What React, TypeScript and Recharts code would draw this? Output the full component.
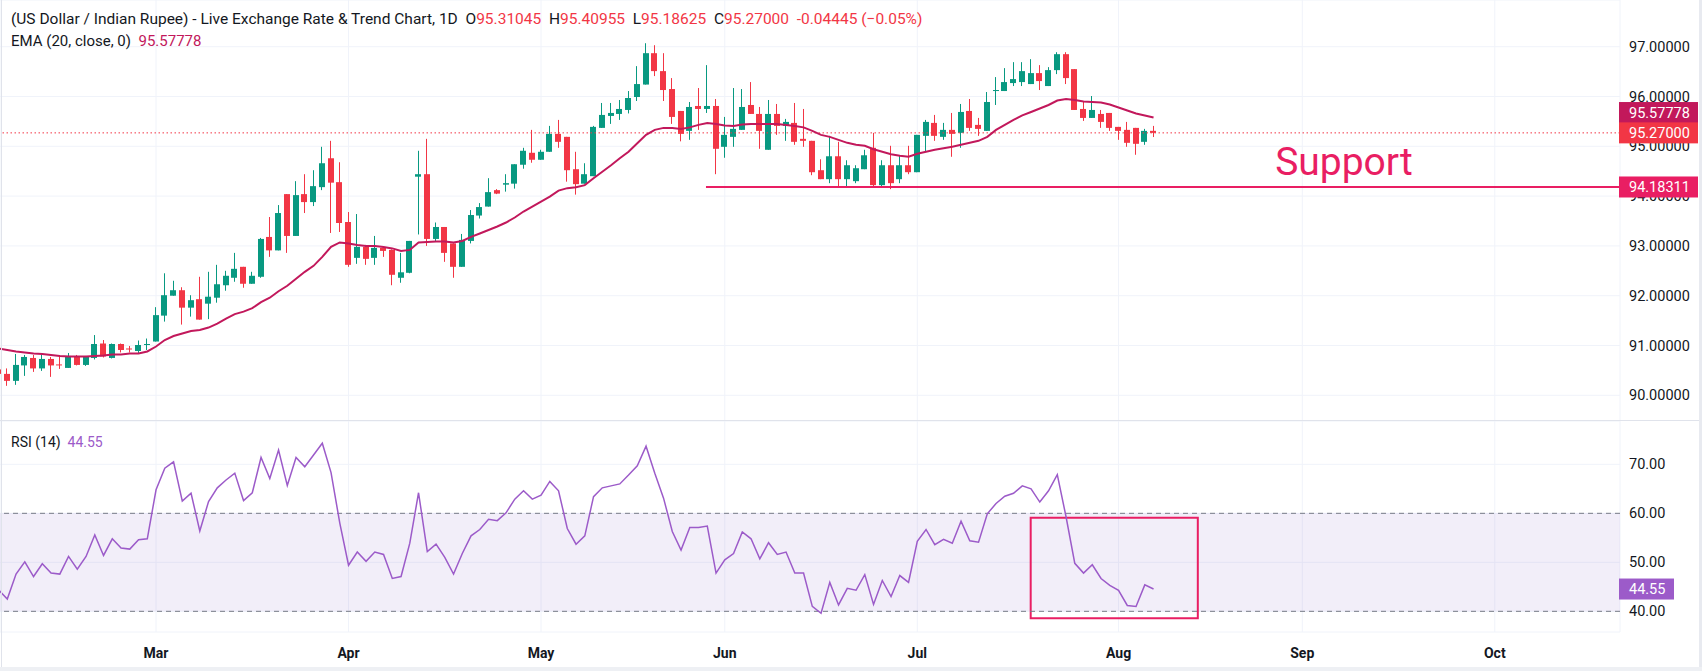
import React from "react";
import {
  ComposedChart,
  Bar,
  Line,
  XAxis,
  YAxis,
  CartesianGrid,
  ReferenceLine,
  ReferenceArea,
  ReferenceDot,
} from "recharts";

// USD/INR daily candles, 4 Feb - 7 Aug (first bar sits just off the left edge).
const open = [
  90.52, 90.43, 90.29, 90.6, 90.75, 90.54, 90.73, 90.62, 90.55, 90.77, 90.61, 90.75, 91.04, 90.75, 91.03, 90.94, 90.89,
  91.02, 91.08, 91.6, 92.0, 92.11, 91.76, 91.93, 91.84, 91.96, 92.21, 92.36, 92.58, 92.24, 92.38, 93.18, 92.91, 94.04,
  93.2, 94.04, 93.88, 94.18, 94.76, 94.28, 93.48, 92.76, 92.98, 92.76, 92.96, 92.92, 92.36, 92.46, 94.39, 94.44, 93.14,
  93.38, 93.05, 92.58, 93.1, 93.61, 93.79, 94.12, 94.23, 94.25, 94.63, 94.87, 94.73, 94.89, 95.25, 95.19, 94.54, 94.25,
  94.4, 95.37, 95.61, 95.65, 95.73, 95.99, 96.24, 96.87, 96.51, 96.15, 95.71, 95.31, 95.81, 95.75, 95.81, 94.99, 95.19,
  95.33, 95.83, 95.65, 94.93, 95.65, 95.41, 95.47, 95.15, 95.11, 94.52, 94.34, 94.8, 94.34, 94.3, 94.54, 94.97, 94.22,
  94.62, 94.34, 94.62, 94.48, 95.21, 95.47, 95.19, 95.33, 95.27, 95.71, 95.43, 95.31, 96.11, 96.11, 96.27, 96.29, 96.25,
  96.47, 96.21, 96.53, 96.85, 96.55, 95.75, 95.57, 95.65, 95.67, 95.39, 95.33, 95.37, 95.09, 95.31045,
];
const high = [
  90.58, 90.54, 90.83, 90.81, 90.81, 90.84, 90.77, 90.77, 90.85, 90.81, 90.79, 91.21, 91.11, 91.04, 91.04, 90.99, 91.1,
  91.14, 91.77, 92.45, 92.3, 92.17, 92.01, 92.38, 92.48, 92.62, 92.5, 92.86, 92.58, 92.48, 93.16, 93.58, 93.82, 94.04,
  94.3, 94.44, 94.52, 94.99, 95.11, 94.68, 93.68, 93.64, 93.02, 93.2, 92.97, 92.93, 92.86, 93.1, 94.91, 95.15, 93.47,
  93.38, 93.05, 93.24, 93.72, 93.86, 94.36, 94.14, 94.44, 94.64, 94.97, 95.33, 94.93, 95.41, 95.53, 95.19, 94.89, 94.66,
  95.41, 95.87, 95.87, 95.93, 96.11, 96.61, 97.07, 97.03, 96.87, 96.37, 95.71, 95.89, 96.17, 96.63, 95.95, 95.59, 96.17,
  96.15, 96.29, 95.79, 95.93, 95.85, 95.55, 95.87, 95.75, 95.11, 94.74, 95.21, 95.09, 94.72, 94.62, 94.93, 95.27, 94.72,
  95.01, 94.82, 95.01, 95.23, 95.53, 95.63, 95.47, 95.67, 95.85, 95.95, 95.57, 96.09, 96.39, 96.57, 96.69, 96.69, 96.75,
  96.63, 96.59, 96.89, 96.89, 96.55, 95.91, 96.01, 95.73, 95.67, 95.39, 95.49, 95.37, 95.35, 95.40955,
];
const low = [
  90.38, 90.19, 90.21, 90.39, 90.47, 90.49, 90.37, 90.53, 90.55, 90.6, 90.59, 90.72, 90.76, 90.74, 90.86, 90.86, 90.84,
  90.91, 91.08, 91.48, 92.0, 91.42, 91.58, 91.52, 91.53, 91.86, 92.1, 92.28, 92.16, 92.24, 92.36, 92.78, 92.91, 92.86,
  93.2, 93.66, 93.8, 94.12, 93.26, 93.28, 92.58, 92.64, 92.62, 92.62, 92.78, 92.21, 92.26, 92.45, 93.23, 93.0, 93.09,
  92.68, 92.36, 92.58, 93.05, 93.55, 93.79, 94.04, 94.09, 94.15, 94.55, 94.67, 94.73, 94.89, 94.97, 94.29, 94.03, 94.25,
  94.4, 95.37, 95.45, 95.53, 95.66, 95.91, 96.24, 96.41, 95.91, 95.45, 95.1, 95.13, 95.33, 95.67, 94.44, 94.77, 94.99,
  95.33, 95.65, 94.95, 94.93, 95.23, 95.11, 95.03, 94.99, 94.42, 94.34, 94.26, 94.2, 94.2, 94.26, 94.54, 94.2, 94.2,
  94.14, 94.26, 94.44, 94.48, 94.89, 95.11, 95.13, 94.79, 94.97, 95.31, 95.21, 95.31, 95.83, 96.11, 96.21, 96.21, 96.25,
  96.13, 96.21, 96.45, 96.25, 95.73, 95.51, 95.57, 95.37, 95.31, 95.13, 94.99, 94.83, 95.03, 95.18625,
];
const close = [
  90.43, 90.29, 90.61, 90.77, 90.54, 90.73, 90.6, 90.6, 90.79, 90.61, 90.77, 91.03, 90.78, 91.03, 90.91, 90.92, 91.01,
  91.03, 91.61, 92.01, 92.11, 91.76, 91.91, 91.52, 91.98, 92.23, 92.4, 92.54, 92.24, 92.4, 93.14, 92.91, 93.66, 93.2,
  94.02, 93.88, 94.2, 94.66, 94.27, 93.46, 92.62, 92.98, 92.74, 92.96, 92.9, 92.42, 92.47, 93.1, 94.44, 93.14, 93.38,
  92.86, 92.58, 93.12, 93.62, 93.78, 94.08, 94.05, 94.26, 94.64, 94.91, 94.73, 94.89, 95.25, 95.09, 94.52, 94.24, 94.44,
  95.39, 95.63, 95.67, 95.75, 95.97, 96.25, 96.87, 96.51, 96.13, 95.59, 95.25, 95.79, 95.75, 95.81, 94.95, 95.23, 95.35,
  95.79, 95.65, 95.31, 95.65, 95.41, 95.49, 95.09, 95.11, 94.48, 94.34, 94.8, 94.34, 94.62, 94.56, 94.82, 94.22, 94.62,
  94.26, 94.62, 94.48, 95.23, 95.49, 95.21, 95.33, 95.25, 95.69, 95.37, 95.35, 95.89, 96.13, 96.29, 96.35, 96.51, 96.47,
  96.31, 96.53, 96.85, 96.37, 95.73, 95.57, 95.73, 95.49, 95.37, 95.31, 95.07, 95.05, 95.31, 95.27,
];
// EMA(20, close) as drawn on the chart
const ema = [
  90.94, 90.91, 90.88, 90.86, 90.84, 90.83, 90.81, 90.79, 90.78, 90.78, 90.78, 90.79, 90.8, 90.82, 90.82, 90.84, 90.84,
  90.88, 90.98, 91.11, 91.19, 91.24, 91.29, 91.31, 91.36, 91.44, 91.54, 91.63, 91.68, 91.75, 91.87, 91.96, 92.09, 92.2,
  92.34, 92.48, 92.6, 92.78, 92.98, 93.07, 93.05, 93.02, 93.0, 93.0, 92.98, 92.95, 92.9, 92.92, 93.07, 93.08, 93.09,
  93.09, 93.07, 93.1, 93.18, 93.25, 93.32, 93.39, 93.47, 93.57, 93.69, 93.79, 93.89, 93.99, 94.11, 94.16, 94.18, 94.22,
  94.36, 94.49, 94.62, 94.76, 94.89, 95.06, 95.23, 95.33, 95.37, 95.37, 95.35, 95.38, 95.43, 95.47, 95.45, 95.42, 95.41,
  95.44, 95.45, 95.45, 95.45, 95.45, 95.43, 95.41, 95.38, 95.31, 95.23, 95.19, 95.13, 95.07, 95.03, 95.01, 94.94, 94.89,
  94.84, 94.81, 94.79, 94.85, 94.89, 94.93, 94.96, 94.99, 95.03, 95.07, 95.11, 95.19, 95.33, 95.43, 95.53, 95.62, 95.69,
  95.76, 95.83, 95.92, 95.95, 95.93, 95.9, 95.89, 95.88, 95.84, 95.78, 95.72, 95.66, 95.62, 95.57778,
];
// RSI(14)
const rsi = [
  44.4, 42.5, 47.6, 50.1, 47.1, 49.7, 47.8, 47.6, 51.2, 48.6, 51.2, 55.6, 51.4, 54.8, 52.9, 52.7, 54.6, 54.8, 64.8, 69.2,
  70.5, 62.5, 64.1, 56.4, 62.4, 65.2, 66.8, 68.2, 62.6, 64.2, 71.4, 67.1, 72.9, 65.7, 71.4, 69.5, 71.9, 74.3, 68.3, 58.0,
  49.4, 52.1, 50.2, 52.1, 51.6, 46.7, 47.1, 53.9, 64.2, 52.2, 53.7, 51.0, 47.6, 51.8, 55.4, 56.7, 58.8, 58.5, 60.1, 62.9,
  64.6, 62.9, 63.7, 66.5, 64.6, 56.9, 53.7, 55.4, 63.4, 65.2, 65.6, 66.0, 67.8, 69.7, 73.7, 68.2, 63.1, 56.3, 52.5, 57.1,
  57.1, 57.4, 47.8, 50.5, 51.8, 56.2, 54.8, 50.7, 54.0, 51.6, 52.1, 47.8, 47.8, 41.0, 39.6, 45.9, 41.3, 44.7, 44.3, 47.5,
  41.4, 46.3, 43.0, 47.3, 45.9, 54.3, 56.7, 53.6, 54.7, 53.9, 58.4, 54.4, 54.1, 59.9, 62.0, 63.5, 64.1, 65.6, 65.0, 62.3,
  64.6, 67.9, 59.3, 49.8, 47.8, 49.5, 46.7, 45.3, 44.3, 41.2, 41.0, 45.4, 44.55,
];

// bar slots that open each month (Feb 5 = slot 0)
const monthTicks = [17, 39, 61, 82, 104, 127, 148, 170];
const monthLabels = ["Mar", "Apr", "May", "Jun", "Jul", "Aug", "Sep", "Oct"];
const priceTicks = [90, 91, 92, 93, 94, 95, 96, 97];
const rsiTicks = [40, 50, 60, 70];

const lastClose = 95.27;
const lastEma = 95.57778;
const lastRsi = 44.55;
const supportLevel = 94.18311;
const supportFrom = 79.85;
const rsiBox = { x1: 116.96, x2: 136.06, y1: 38.6, y2: 59.1 };

const FONT = '"Trebuchet MS", Roboto, sans-serif';
const UP = "#089981";
const DOWN = "#F23645";
const EMA_COLOR = "#C2185B";
const PINK = "#E91E63";
const RSI_COLOR = "#9C5BC9";
const GRID = "#F0F3FA";
const X_DOMAIN: [number, number] = [-0.834, 184.31];
const PRICE_DOMAIN: [number, number] = [89.484, 97.938];

const rows = open.map((o, k) => ({
  i: k - 1,
  open: o,
  high: high[k],
  low: low[k],
  close: close[k],
  ema: ema[k],
  rsi: rsi[k],
}));

function Candle(props: any) {
  const { x, y, width, height, payload } = props;
  if (!payload || x == null || y == null) return null;
  const { open: o, close: c, high: h, low: l } = payload;
  const color = c >= o ? UP : DOWN;
  const hgt = Math.abs(height);
  const top = height < 0 ? y + height : y;
  const k = h === l ? 0 : hgt / (h - l);
  const yOf = (v: number) => top + (h - v) * k;
  const cx = x + width / 2;
  const wx = Math.round(cx - 0.5) + 0.5;
  const bTop = yOf(Math.max(o, c));
  const bBot = yOf(Math.min(o, c));
  return (
    <g>
      <line x1={wx} x2={wx} y1={top} y2={top + hgt} stroke={color} strokeWidth={1} />
      <rect x={Math.round(cx) - 3} y={bTop} width={6} height={Math.max(1, bBot - bTop)} fill={color} />
    </g>
  );
}

// coloured value tag on the price scale
function axisTag(text: string, fill: string, w: number, shift = 0) {
  return (props: any) => {
    const vb = props.viewBox || {};
    const x = vb.x + vb.width - 1;
    const cy = vb.y + shift;
    return (
      <g>
        <rect x={x} y={cy - 10.5} width={w} height={21} fill={fill} />
        <text x={x + 10} y={cy} dy="0.355em" fill="#fff" fontSize={14.5} fontFamily={FONT}>
          {text}
        </text>
      </g>
    );
  };
}

function supportText(props: any) {
  const vb = props.viewBox || {};
  return (
    <text x={vb.x} y={vb.y} fill={PINK} fontSize={39} fontFamily={FONT}>
      Support
    </text>
  );
}

export default function App() {
  const red = { color: DOWN };
  return (
    <div
      style={{
        position: "absolute",
        left: 0,
        top: 0,
        width: 1702,
        height: 671,
        background: "#fff",
        overflow: "hidden",
        fontFamily: FONT,
        color: "#131722",
      }}
    >
      <div style={{ position: "absolute", left: 0, top: 0 }}>
        <ComposedChart width={1702} height={421} data={rows} margin={{ top: 0, right: 0, left: 0, bottom: 0 }}>
          <CartesianGrid stroke={GRID} strokeWidth={1} />
          <XAxis
            dataKey="i"
            type="number"
            domain={X_DOMAIN}
            allowDataOverflow
            ticks={monthTicks}
            hide
          />
          <YAxis
            orientation="right"
            width={82}
            domain={PRICE_DOMAIN}
            allowDataOverflow
            ticks={priceTicks}
            tickFormatter={(v: number) => v.toFixed(5)}
            axisLine={false}
            tickLine={false}
            tickSize={0}
            tickMargin={9}
            tick={{ fill: "#131722", fontSize: 14.5, fontFamily: FONT }}
          />
          <ReferenceLine y={lastClose} stroke={DOWN} strokeDasharray="1.5 2.5" />
          <ReferenceLine
            segment={[
              { x: supportFrom, y: supportLevel },
              { x: X_DOMAIN[1], y: supportLevel },
            ]}
            stroke={PINK}
            strokeWidth={2}
          />
          <Bar
            dataKey={(d: any) => [d.low, d.high]}
            barSize={6}
            shape={Candle}
            isAnimationActive={false}
          />
          <Line
            dataKey="ema"
            type="linear"
            stroke={EMA_COLOR}
            strokeWidth={2}
            dot={false}
            isAnimationActive={false}
          />
          <ReferenceDot x={144.9} y={94.424} r={0} stroke="none" fill="none" label={supportText} />
        </ComposedChart>
      </div>

      {/* price-scale tags drawn above the tick labels */}
      <div style={{ position: "absolute", left: 0, top: 0, pointerEvents: "none" }}>
        <ComposedChart width={1702} height={421} data={rows} margin={{ top: 0, right: 82, left: 0, bottom: 0 }}>
          <XAxis dataKey="i" type="number" domain={X_DOMAIN} allowDataOverflow hide />
          <YAxis domain={PRICE_DOMAIN} allowDataOverflow hide />
          <ReferenceLine
            y={lastEma}
            stroke="none"
            strokeOpacity={0}
            label={axisTag(lastEma.toFixed(5), EMA_COLOR, 79, -5)}
          />
          <ReferenceLine
            y={lastClose}
            stroke="none"
            strokeOpacity={0}
            label={axisTag(lastClose.toFixed(5), DOWN, 79)}
          />
          <ReferenceLine
            y={supportLevel}
            stroke="none"
            strokeOpacity={0}
            label={axisTag(supportLevel.toFixed(5), PINK, 79)}
          />
        </ComposedChart>
      </div>

      <div style={{ position: "absolute", left: 0, top: 421 }}>
        <ComposedChart width={1702} height={246} data={rows} margin={{ top: 0, right: 0, left: 0, bottom: 0 }}>
          <CartesianGrid stroke={GRID} strokeWidth={1} />
          <ReferenceArea y1={40} y2={60} fill="#7E57C2" fillOpacity={0.1} stroke="none" />
          <XAxis
            dataKey="i"
            type="number"
            domain={X_DOMAIN}
            allowDataOverflow
            ticks={monthTicks}
            tickFormatter={(v: number) => monthLabels[monthTicks.indexOf(v)] ?? ""}
            height={35}
            axisLine={false}
            tickLine={false}
            tickSize={0}
            tickMargin={16}
            tick={{ fill: "#131722", fontSize: 14, fontWeight: 700, fontFamily: FONT }}
          />
          <YAxis
            orientation="right"
            width={82}
            domain={[35.78, 78.84]}
            allowDataOverflow
            ticks={rsiTicks}
            tickFormatter={(v: number) => v.toFixed(2)}
            axisLine={false}
            tickLine={false}
            tickSize={0}
            tickMargin={9}
            tick={{ fill: "#131722", fontSize: 14.5, fontFamily: FONT }}
          />
          <ReferenceLine y={60} stroke="#787B86" strokeDasharray="5 4" />
          <ReferenceLine y={40} stroke="#787B86" strokeDasharray="5 4" />
          <ReferenceArea
            x1={rsiBox.x1}
            x2={rsiBox.x2}
            y1={rsiBox.y1}
            y2={rsiBox.y2}
            fill="none"
            fillOpacity={0}
            stroke={PINK}
            strokeWidth={2}
          />
          <Line
            dataKey="rsi"
            type="linear"
            stroke={RSI_COLOR}
            strokeWidth={1.5}
            dot={false}
            isAnimationActive={false}
          />
          <ReferenceLine
            y={lastRsi}
            stroke="none"
            strokeOpacity={0}
            label={axisTag(lastRsi.toFixed(2), RSI_COLOR, 55)}
          />
        </ComposedChart>
      </div>

      {/* pane separator and frame */}
      <div style={{ position: "absolute", left: 0, top: 420, width: 1702, height: 1, background: "#E0E3EB" }} />
      <div style={{ position: "absolute", left: 1, top: 0, width: 1, height: 671, background: "#E0E3EB" }} />
      <div style={{ position: "absolute", left: 1699, top: 0, width: 3, height: 671, background: "#E8EAF0" }} />
      <div style={{ position: "absolute", left: 0, top: 667, width: 1702, height: 4, background: "#EEF0F4" }} />

      {/* legends */}
      <div style={{ position: "absolute", left: 11, top: 9, fontSize: 15.5, lineHeight: "21px", whiteSpace: "pre" }}>
        {"(US Dollar / Indian Rupee) - Live Exchange Rate & Trend Chart, 1D  O"}
        <span style={red}>95.31045</span>
        {"  H"}
        <span style={red}>95.40955</span>
        {"  L"}
        <span style={red}>95.18625</span>
        {"  C"}
        <span style={red}>95.27000</span>
        {"  "}
        <span style={red}>{"-0.04445 (\u22120.05%)"}</span>
      </div>
      <div style={{ position: "absolute", left: 11, top: 30.5, fontSize: 15, lineHeight: "21px", whiteSpace: "pre" }}>
        {"EMA (20, close, 0)  "}
        <span style={{ color: EMA_COLOR }}>{lastEma.toFixed(5)}</span>
      </div>
      <div style={{ position: "absolute", left: 11, top: 432, fontSize: 14, lineHeight: "20px", whiteSpace: "pre" }}>
        {"RSI (14)  "}
        <span style={{ color: RSI_COLOR }}>{lastRsi.toFixed(2)}</span>
      </div>
    </div>
  );
}
